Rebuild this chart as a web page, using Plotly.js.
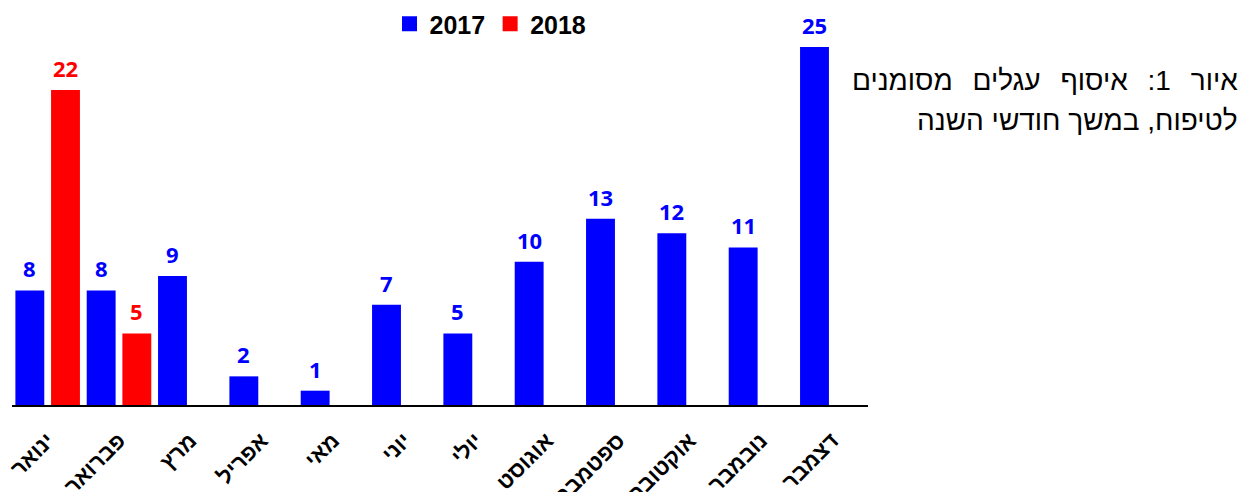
<!DOCTYPE html>
<html>
<head>
<meta charset="utf-8">
<script src="https://cdn.plot.ly/plotly-3.0.1.min.js"></script>
<style>html,body{margin:0;padding:0;background:#fff;}#chart{width:1259px;height:492px;}</style>
</head>
<body>
<div id="chart"></div>
<script>
const months = ["ינואר","פברואר","מרץ","אפריל","מאי","יוני","יולי","אוגוסט","ספטמבר","אוקטובר","נובמבר","דצמבר"];
const values2017 = [8, 8, 9, 2, 1, 7, 5, 10, 13, 12, 11, 25];
const values2018 = [22, 5, null, null, null, null, null, null, null, null, null, null];
const seriesNames = ["2017", "2018"];
const titleLine1 = "איור 1: איסוף עגלים מסומנים";
const titleLine2 = "לטיפוח, במשך חודשי השנה";

const colors = ["#0000FF", "#FF0000"];
const seriesValues = [values2017, values2018];

const traces = seriesValues.map((vals, s) => ({
  type:"bar", name:seriesNames[s], x:months, y:vals, marker:{color:colors[s]}, hoverinfo:"none"
}));

// value labels above bars (group of 2 bars per category, each half a category wide)
const labelAnns = [];
seriesValues.forEach((vals, s) => {
  vals.forEach((v, i) => {
    if (v === null) return;
    labelAnns.push({xref:"x", yref:"y", x:i + (s === 0 ? -0.25 : 0.25), y:v, text:String(v),
      showarrow:false, xanchor:"center", yanchor:"bottom", yshift:5,
      font:{family:"Open Sans, Arial", size:22, color:colors[s], weight:"bold"}});
  });
});

const layout = {
  width:1259, height:492,
  margin:{l:12, r:391, t:47, b:87, autoexpand:false},
  paper_bgcolor:"#fff", plot_bgcolor:"#fff",
  barmode:"group", bargap:0, bargroupgap:0.19,
  showlegend:true,
  legend:{orientation:"h", x:0.559, xanchor:"center", y:1.0 + (47-24)/358, yanchor:"middle",
          font:{family:"Arial", size:25, color:"#000", weight:"bold"}, itemclick:false, traceorder:"normal"},
  xaxis:{type:"category", showline:true, linecolor:"#000", linewidth:2, ticks:"", tickangle:-45,
         ticklabelstandoff:12,
         tickfont:{family:"Arial", size:22, color:"#000", weight:"bold"}, showgrid:false, zeroline:false,
         fixedrange:true, automargin:false},
  yaxis:{range:[0,25], visible:false, showgrid:false, zeroline:false, fixedrange:true},
  annotations: labelAnns.concat([
    {xref:"paper", yref:"paper", x:(1240-12)/856, y:(405-80)/358, xanchor:"right", yanchor:"middle",
     align:"right", showarrow:false, text:titleLine1, font:{family:"Arial", size:28, color:"#000"}},
    {xref:"paper", yref:"paper", x:(1240-12)/856, y:(405-121)/358, xanchor:"right", yanchor:"middle",
     align:"right", showarrow:false, text:titleLine2, font:{family:"Arial", size:28, color:"#000"}}
  ])
};
Plotly.newPlot("chart", traces, layout, {staticPlot:true, displayModeBar:false}).then(gd => {
  gd.querySelectorAll(".legendpoints path").forEach(p => {
    p.setAttribute("d", "M7.5,7.5H-7.5V-7.5H7.5Z");
  });
  // first title line is justified in the reference: widen its word gaps
  gd.querySelectorAll(".annotation-text").forEach(t => {
    if (t.textContent === titleLine1) t.style.wordSpacing = "12px";
  });
});
</script>
</body>
</html>
